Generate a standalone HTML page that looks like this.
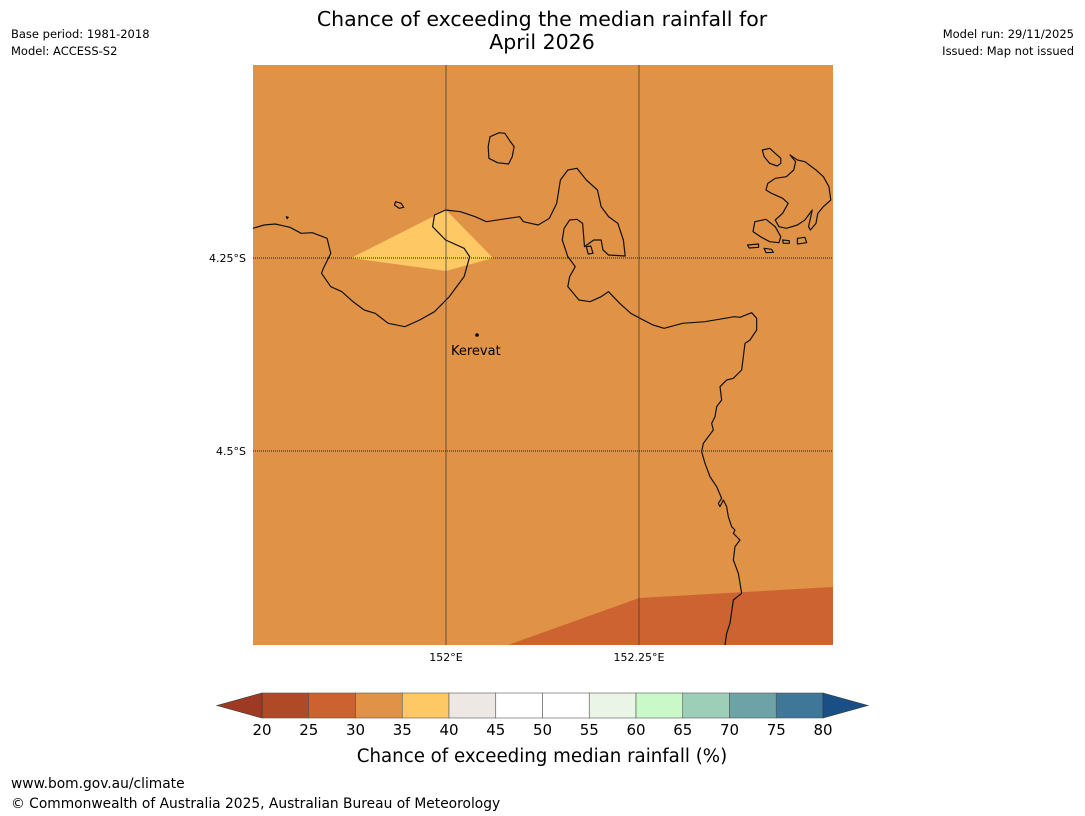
<!DOCTYPE html>
<html><head><meta charset="utf-8"><style>
body{margin:0;background:#fff;width:1085px;height:816px;overflow:hidden;font-family:"DejaVu Sans","Liberation Sans",sans-serif}
svg{position:absolute;left:0;top:0;font-family:"DejaVu Sans","Liberation Sans",sans-serif}
</style></head><body>
<svg width="1085" height="816">
<text x="542" y="26" font-size="20.5" text-anchor="middle">Chance of exceeding the median rainfall for</text>
<text x="542" y="49" font-size="20.5" text-anchor="middle">April 2026</text>
<text x="11" y="38" font-size="11.5">Base period: 1981-2018</text>
<text x="11" y="55" font-size="11.5">Model: ACCESS-S2</text>
<text x="1074" y="38" font-size="11.5" text-anchor="end">Model run: 29/11/2025</text>
<text x="1074" y="55" font-size="11.5" text-anchor="end">Issued: Map not issued</text>
<g id="map">
<rect x="253" y="65" width="580" height="580" fill="#e09346"/>
<polygon points="508,645 639,598 833,587 833,645" fill="#cc6331"/>
<polygon points="351,258 446,210 493,258 446,271" fill="#fec865"/>
<g id="coast" fill="none" stroke="#111" stroke-width="1.2" stroke-linejoin="round"></g>
<line x1="446" y1="65" x2="446" y2="645" stroke="#333" stroke-width="1" opacity="0.7"/>
<line x1="639" y1="65" x2="639" y2="645" stroke="#333" stroke-width="1" opacity="0.7"/>
<line x1="253" y1="258" x2="833" y2="258" stroke="#222" stroke-dasharray="1,1"/>
<line x1="253" y1="451" x2="833" y2="451" stroke="#222" stroke-dasharray="1,1"/>
<circle cx="477" cy="335" r="1.8" fill="#000"/>
<text x="451" y="355" font-size="13">Kerevat</text>
</g>
<text x="246" y="262" font-size="11" text-anchor="end">4.25°S</text>
<text x="246" y="455" font-size="11" text-anchor="end">4.5°S</text>
<text x="446" y="661" font-size="11" text-anchor="middle">152°E</text>
<text x="639" y="661" font-size="11" text-anchor="middle">152.25°E</text>
<g id="cbar"></g>
<text x="542" y="762" font-size="18.2" text-anchor="middle">Chance of exceeding median rainfall (%)</text>
<text x="11" y="788" font-size="13.8">www.bom.gov.au/climate</text>
<text x="11" y="808" font-size="13.8">© Commonwealth of Australia 2025, Australian Bureau of Meteorology</text>
</svg>
<script>
const NS="http://www.w3.org/2000/svg";
const binEdges=[20,25,30,35,40,45,50,55,60,65,70,75,80];
const binColors=["#b04a26","#cc6230","#e09346","#fec865","#ede8e3","#ffffff","#ffffff","#eaf5e8","#c9f8c9","#9dcfb8","#6da2a6","#3e7797"];
const underColor="#9e3a23", overColor="#1a4f85";
const cx0=262,cx1=823,cy0=693,cy1=718;
const xs=v=>cx0+(v-20)/(80-20)*(cx1-cx0);
const cb=document.getElementById('cbar');
for(let i=0;i<binColors.length;i++){
 const r=document.createElementNS(NS,'rect');
 r.setAttribute('x',xs(binEdges[i]));r.setAttribute('y',cy0);
 r.setAttribute('width',xs(binEdges[i+1])-xs(binEdges[i]));r.setAttribute('height',cy1-cy0);
 r.setAttribute('fill',binColors[i]);r.setAttribute('stroke','#555');r.setAttribute('stroke-width','0.6');
 
 
 cb.appendChild(r);
}
const tu=document.createElementNS(NS,'polygon');
tu.setAttribute('points',`${cx0},${cy0} 217,${(cy0+cy1)/2} ${cx0},${cy1}`);tu.setAttribute('fill',underColor);tu.setAttribute('stroke','#333');tu.setAttribute('stroke-width','0.6');


cb.appendChild(tu);
const to=document.createElementNS(NS,'polygon');
to.setAttribute('points',`${cx1},${cy0} 868,${(cy0+cy1)/2} ${cx1},${cy1}`);to.setAttribute('fill',overColor);to.setAttribute('stroke','#333');to.setAttribute('stroke-width','0.6');


cb.appendChild(to);
binEdges.forEach(v=>{
 const t=document.createElementNS(NS,'text');
 t.setAttribute('x',xs(v));t.setAttribute('y',735);t.setAttribute('font-size','15');t.setAttribute('text-anchor','middle');
 t.textContent=v;
 
 
 cb.appendChild(t);
});
const A=(pts)=>pts.map(p=>[p[0]/2.7+253,p[1]/3+120]);
const B=(pts)=>pts.map(p=>[p[0]/3+690,p[1]/3+300]);
const mainLine=A([[0,325],[30,315],[60,312],[100,322],[130,340],[160,338],[200,355],[210,400],[190,445],[185,460],[210,500],[240,515],[270,545],[300,570],[330,580],[365,610],[410,620],[450,600],[490,575],[530,530],[570,470],[585,410],[570,385],[520,360],[485,320],[490,285],[520,270],[560,275],[600,290],[630,305],[690,295],[720,290],[730,305],[770,315],[800,295],[820,250],[830,180],[850,150],[875,145],[900,180],[930,210],[940,260],[960,290],[985,310],[1000,360],[1005,408],[960,405],[945,390],[940,360],[920,360],[895,380],[890,310],[875,298],[855,300],[840,325],[835,360],[850,410],[870,440],[855,470],[850,500],[880,540],[910,545],[940,530],[960,515],[990,550],[1020,580],[1045,595],[1080,615],[1110,625],[1160,610],[1220,605],[1300,590]]).concat(B([[150,52],[185,38],[200,55],[200,90],[180,120],[165,130],[160,170],[155,210],[130,235],[110,240],[90,260],[95,300],[80,320],[75,350],[65,370],[70,390],[55,410],[40,430],[35,455],[45,490],[60,530],[80,560],[95,595],[85,610],[90,620],[100,600],[110,620],[115,650],[125,680],[135,690],[130,700],[140,710],[150,720],[135,740],[130,780],[145,820],[150,850],[155,880],[130,900],[125,935],[120,970],[110,1000],[105,1035]]));
const islands=[
 [[640,50],[665,38],[680,40],[695,65],[705,80],[700,110],[690,132],[660,128],[637,115],[635,80]],
 [[385,245],[400,250],[407,262],[395,265],[382,255]],
 [[900,380],[912,378],[918,400],[905,402]],
 [[1375,90],[1395,85],[1410,100],[1425,115],[1425,130],[1415,138],[1395,130],[1380,110]],
 [[1450,105],[1470,120],[1490,125],[1520,150],[1540,170],[1555,200],[1560,240],[1540,260],[1525,280],[1520,310],[1505,330],[1500,320],[1510,270],[1490,300],[1470,315],[1440,325],[1420,320],[1410,300],[1430,280],[1445,250],[1430,235],[1400,220],[1385,210],[1390,190],[1410,175],[1440,170],[1460,150],[1465,125]],
 [[1355,305],[1385,298],[1410,320],[1425,350],[1420,368],[1395,365],[1370,350],[1350,335]],
 [[1335,375],[1365,372],[1365,382],[1340,384]],
 [[1380,385],[1400,388],[1405,397],[1385,398]],
 [[1430,360],[1448,362],[1448,370],[1432,370]],
 [[1470,355],[1490,352],[1495,368],[1470,372]],
 [[90,290],[95,292],[92,296]]
];
const cg=document.getElementById('coast');
const mp=document.createElementNS(NS,'polyline');
mp.setAttribute('points',mainLine.map(p=>p.join(',')).join(' '));


cg.appendChild(mp);
islands.forEach(is=>{
 const pg=document.createElementNS(NS,'polygon');
 pg.setAttribute('points',A(is).map(p=>p.join(',')).join(' '));
 
 
 cg.appendChild(pg);
});
</script>
</body></html>
